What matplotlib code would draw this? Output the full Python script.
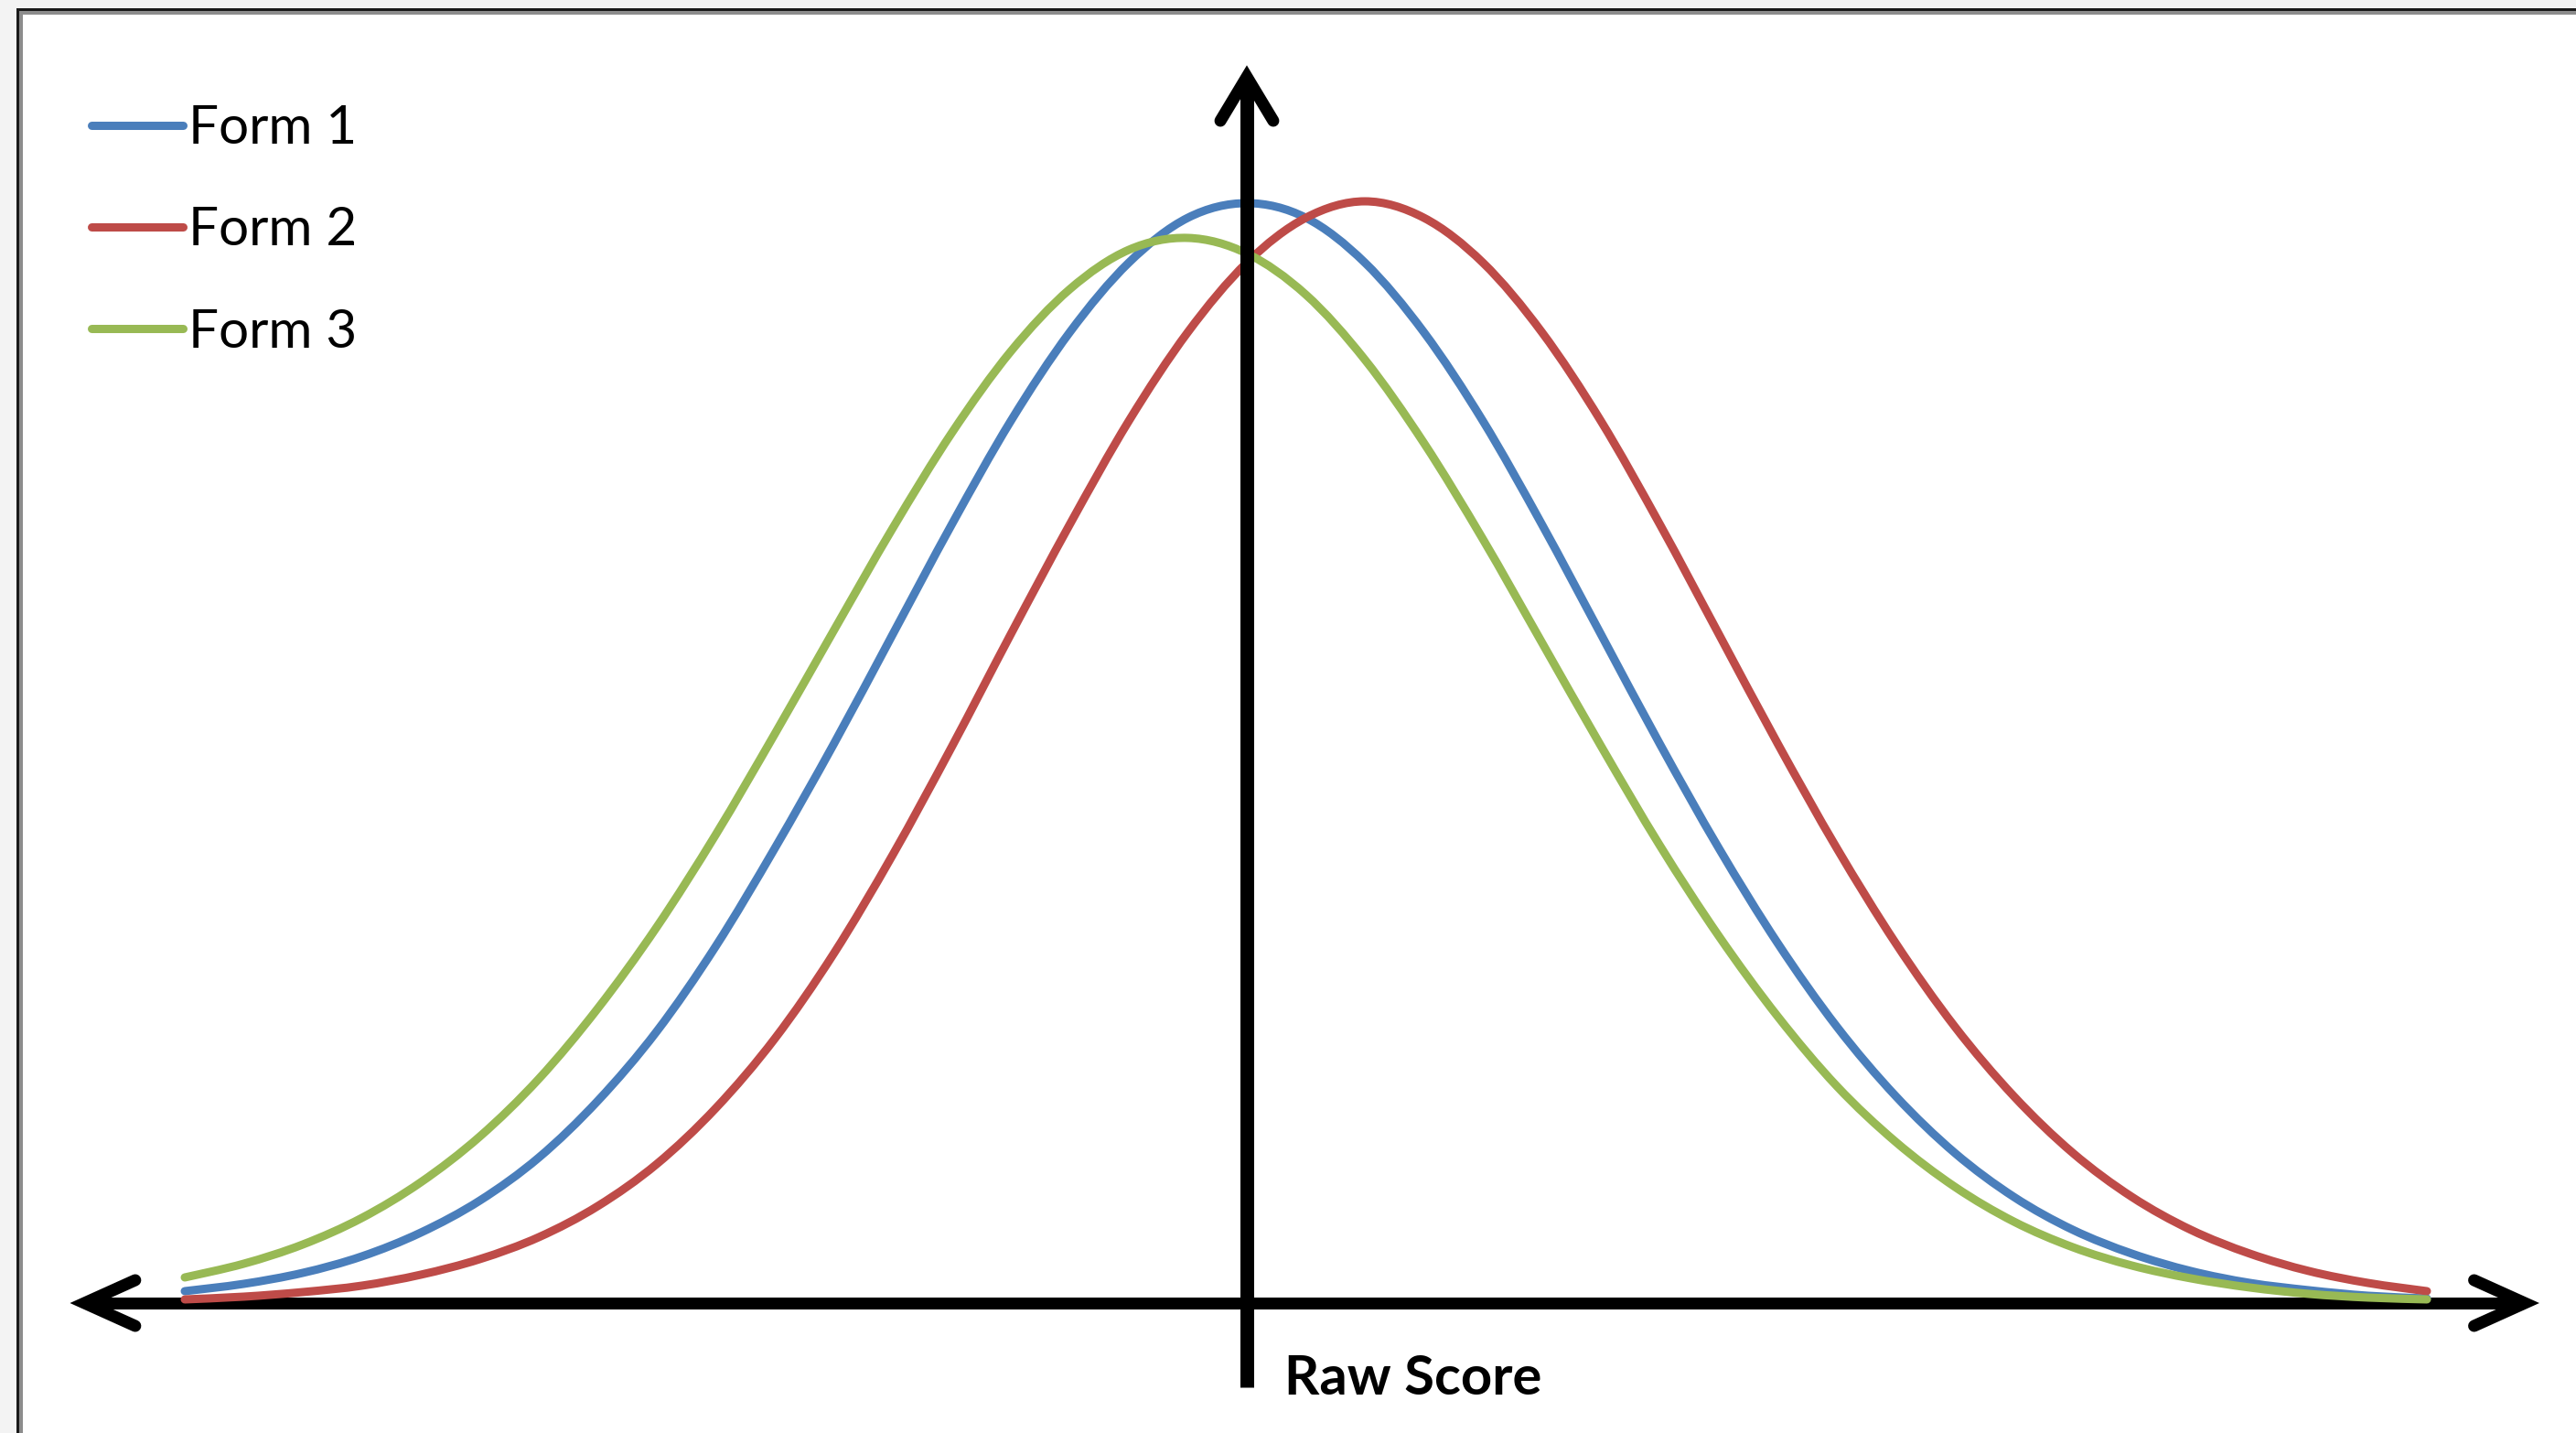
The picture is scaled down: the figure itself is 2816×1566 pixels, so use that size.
import matplotlib
matplotlib.use("Agg")
import matplotlib.pyplot as plt
from matplotlib.patches import Rectangle, PathPatch
from matplotlib.path import Path
from matplotlib.lines import Line2D

plt.rcParams["font.family"] = ["Lato", "DejaVu Sans"]

# Raw score (in SD units, vertical axis sits at 0)
scores = [-4.5, -4.25, -4.0, -3.75, -3.5, -3.25, -3.0, -2.75, -2.5, -2.25,
          -2.0, -1.75, -1.5, -1.25, -1.0, -0.75, -0.5, -0.25, 0.0, 0.25,
          0.5, 0.75, 1.0, 1.25, 1.5, 1.75, 2.0, 2.25, 2.5, 2.75,
          3.0, 3.25, 3.5, 3.75, 4.0, 4.25, 4.5, 4.75, 5.0]

# Frequencies
form1 = [13, 21, 33, 51, 77, 112, 159, 221, 297, 390,
         497, 611, 731, 851, 964, 1061, 1137, 1186, 1202, 1186,
         1137, 1061, 964, 851, 731, 611, 497, 393, 302, 226,
         164, 116, 80, 54, 35, 22, 14, 8, 5]
form2 = [4, 7, 12, 19, 31, 48, 72, 106, 152, 213,
         289, 382, 490, 608, 731, 851, 964, 1061, 1137, 1186,
         1204, 1186, 1137, 1061, 964, 851, 731, 611, 497, 393,
         302, 226, 164, 116, 80, 54, 35, 22, 13]
form3 = [28, 43, 64, 93, 132, 182, 245, 322, 411, 512,
         622, 735, 847, 951, 1040, 1108, 1151, 1164, 1147, 1102,
         1031, 940, 835, 722, 609, 500, 401, 313, 237, 176,
         127, 89, 61, 41, 27, 17, 10, 6, 4]

series_names = ["Form 1", "Form 2", "Form 3"]
series_colors = ["#4a7ebb", "#be4b48", "#98b954"]
x_label = "Raw Score"


def smooth_path(xs, ys):
    # smoothed line like the spreadsheet draws it (Catmull-Rom as cubic Bezier)
    pts = list(zip(xs, ys))
    verts = [pts[0]]
    codes = [Path.MOVETO]
    n = len(pts)
    for i in range(n - 1):
        p0 = pts[max(i - 1, 0)]
        p1 = pts[i]
        p2 = pts[i + 1]
        p3 = pts[min(i + 2, n - 1)]
        c1 = (p1[0] + (p2[0] - p0[0]) / 6, p1[1] + (p2[1] - p0[1]) / 6)
        c2 = (p2[0] - (p3[0] - p1[0]) / 6, p2[1] - (p3[1] - p1[1]) / 6)
        verts += [c1, c2, p2]
        codes += [Path.CURVE4] * 3
    return Path(verts, codes)


W, H = 2816, 1566
fig = plt.figure(figsize=(W / 100, H / 100), dpi=100, facecolor="#f3f3f3")

# window frame (dark edge with a soft shadow) and white panel
fig.patches.append(Rectangle((18 / W, 0), 1, 1 - 9 / H, transform=fig.transFigure,
                             facecolor="#1a1a1a", edgecolor="none", zorder=-10))
fig.patches.append(Rectangle((21 / W, 0), 1, 1 - 12 / H, transform=fig.transFigure,
                             facecolor="#8c8c8c", edgecolor="none", zorder=-9))
fig.patches.append(Rectangle((25 / W, 0), 1, 1 - 16 / H, transform=fig.transFigure,
                             facecolor="white", edgecolor="none", zorder=-8))

ax = fig.add_axes([0, 0, 1, 1])
ax.axis("off")
ax.set_xlim(-1363 / 258, (W - 1363) / 258)
ax.set_ylim(-(H - 1424), 1424)

arrow_kw = dict(color="black", lw=9.4, solid_capstyle="round", solid_joinstyle="miter")

# horizontal axis with open arrowheads
ax.plot([-4.92, 5.41], [0, 0], color="black", lw=9.4, solid_capstyle="butt", zorder=2)
ax.plot([-4.71, -4.925, -4.71], [25, 0, -25], zorder=2, **arrow_kw)
ax.plot([5.20, 5.415, 5.20], [25, 0, -25], zorder=2, **arrow_kw)

# curves
handles = []
for ys, name, col in zip([form1, form2, form3], series_names, series_colors):
    ax.add_patch(PathPatch(smooth_path(scores, ys), facecolor="none", edgecolor=col,
                           lw=6.5, capstyle="round", joinstyle="round", zorder=3))
    handles.append(Line2D([], [], color=col, lw=6.5, solid_capstyle="round"))

# vertical axis drawn over the curves
ax.plot([0, 0], [-92, 1330], color="black", lw=10.8, solid_capstyle="butt", zorder=4)
ax.plot([-0.112, 0, 0.112], [1292, 1340, 1292], zorder=4, **arrow_kw)

ax.text(0.16, -100, x_label, fontsize=43, fontweight="bold", ha="left",
        va="baseline", color="black", zorder=5)

ax.legend(handles, series_names, loc="upper left",
          bbox_to_anchor=(100 / W, 1 - 114 / H), bbox_transform=fig.transFigure,
          frameon=False, fontsize=42, handlelength=1.72, handletextpad=0.1,
          labelspacing=1.0, borderpad=0, borderaxespad=0)

fig.savefig("out.png", dpi=100, facecolor=fig.get_facecolor())
